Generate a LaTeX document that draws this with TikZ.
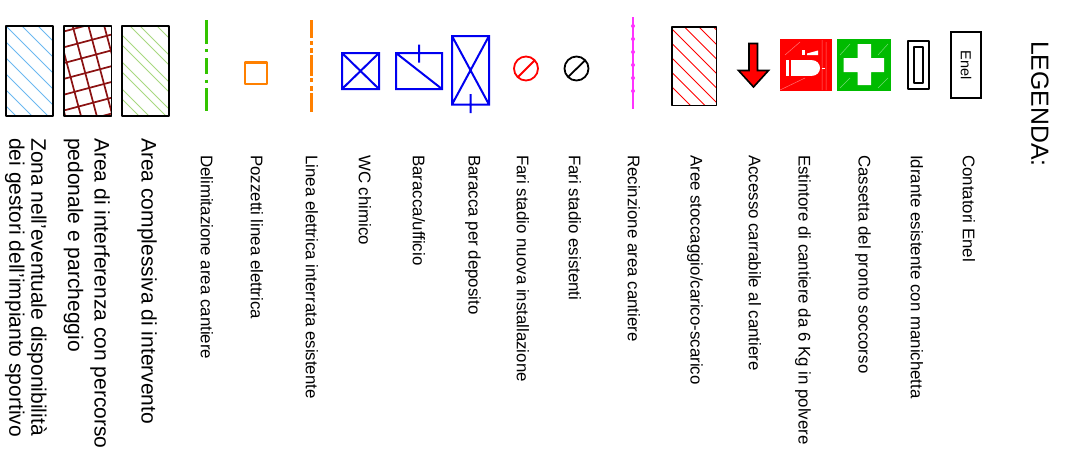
\documentclass[tikz,border=0pt]{standalone}
\usepackage{fontspec}
\setmainfont{Liberation Sans}
\definecolor{hblue}{HTML}{6CB8F0}
\definecolor{hdark}{HTML}{8B1212}
\definecolor{hgreen}{HTML}{A8D880}
\definecolor{lgreen}{HTML}{33C400}
\definecolor{lorange}{HTML}{FF8000}
\definecolor{lblue}{HTML}{0000F0}
\definecolor{lmag}{HTML}{FF33FF}
\definecolor{aidgreen}{HTML}{00BB00}
\tikzset{
  lab/.style={rotate=-90,anchor=west,inner sep=0pt,font=\fontsize{16.85}{19}\selectfont},
  labbig/.style={rotate=-90,anchor=north west,inner sep=0pt,align=left,font=\fontsize{21}{22}\selectfont},
  framebox/.style={draw=black,line width=1.8pt,line join=round},
  bluesym/.style={draw=lblue,line width=2pt},
  hatch/.style={line width=1pt},
  streak/.style={draw=white,opacity=0.45,line width=0.5pt}
}
\begin{document}
\begin{tikzpicture}[x=1pt,y=-1pt]
\useasboundingbox (0,0) rectangle (1069,448);
% hatched boxes
\begin{scope}
\clip (6,26) rectangle (53,116);
\foreach \k in {-4,...,6} \draw[hatch,draw=hblue] (6,26+16*\k) -- ++(100,100);
\end{scope}
\draw[framebox] (6,26) rectangle (53,116);
\begin{scope}
\clip (64,26) rectangle (111.5,116);
\foreach \k in {0,...,7} \draw[line width=1.7pt,draw=hdark] (60,32.5+15.8*\k) -- ++(60,-16);
\foreach \k in {-2,...,4} \draw[line width=1.7pt,draw=hdark] (70+15.8*\k,16) -- ++(30,112);
\end{scope}
\draw[framebox] (64,26) rectangle (111.5,116);
\begin{scope}
\clip (122,26) rectangle (169,116);
\foreach \k in {-4,...,5} {
  \draw[hatch,draw=hgreen] (122,35+27*\k) -- ++(100,100);
  \draw[hatch,draw=hgreen] (122,45+27*\k) -- ++(100,100);}
\end{scope}
\draw[framebox] (122,26) rectangle (169,116);
% green line
\draw[line width=2.4pt,draw=lgreen] (206.5,20)--(206.5,44) (206.5,49)--(206.5,52) (206.5,58)--(206.5,74) (206.5,79.5)--(206.5,82.5) (206.5,88)--(206.5,111);
% orange pit
\draw[line width=2.6pt,draw=lorange,line join=round] (245,62.5) rectangle (267,84);
% orange line
\draw[line width=2.4pt,draw=lorange] (311.5,20)--(311.5,38) (311.5,41)--(311.5,45) (311.5,48)--(311.5,53) (311.5,55)--(311.5,76) (311.5,78)--(311.5,82) (311.5,86)--(311.5,91) (311.5,93)--(311.5,112);
% WC
\draw[bluesym] (342,53) rectangle (379,89) (342,53)--(379,89) (379,53)--(342,89);
% baracca ufficio
\draw[bluesym] (396,53) rectangle (442,89) (396,53)--(442,89) (419,44.5)--(419,62.5);
% baracca deposito
\draw[bluesym] (452,36) rectangle (489,104.5) (452,36)--(489,104.5) (489,36)--(452,104.5) (470.5,94)--(470.5,113);
% lamps
\draw[draw=red,line width=1.8pt] (526,68.5) circle (12) (518,77)--(534.5,60.5);
\draw[draw=black,line width=1.8pt] (576.5,68.5) circle (12) (568,77)--(585,60.5);
% magenta line
\draw[line width=2pt,draw=lmag] (633,17)--(633,109);
\foreach \yy in {26,39,52,65,78,91} \fill[lmag] (633,\yy) circle (2);
% storage
\begin{scope}
\clip (672,27) rectangle (716.5,105.5);
\foreach \k in {-5,...,4} \draw[line width=0.9pt,draw=red] (672,29+14.5*\k) -- ++(100,100);
\end{scope}
\draw[framebox,line width=1.5pt] (672,27) rectangle (716.5,105.5);
% arrow
\draw[fill=red,draw=black,line width=1.6pt,line join=miter] (749,43.5)--(757.5,43.5)--(757.5,70.5)--(768.5,70.5)--(753.5,87)--(738.5,70.5)--(749,70.5)--cycle;
% extinguisher
\fill[red] (779.5,39) rectangle (831.5,91);
\draw[streak] (780,90) -- (805,78) (785,55) -- (800,42) (822,40) -- (822,90) (826,42) -- (826,90);
\fill[white] (791,60) rectangle (812,76);
\fill[white] (811,60) .. controls (817,60) and (820,64) .. (820,68) .. controls (820,72) and (817,76) .. (811,76) -- cycle;
\fill[white] (786,60) rectangle (789,76);
\fill[white] (802,50) rectangle (804.5,55);
\fill[white] (807,53.5) -- (818,50.5) -- (818,55) -- (807,55) -- cycle;
\fill[white] (821.5,67.5) rectangle (824.5,68.7);
% first aid
\fill[aidgreen] (837,39) rectangle (890.5,91);
\draw[streak] (840,55) -- (850,44) (878,55) -- (888,44) (840,88) -- (850,78) (878,88) -- (888,78);
\fill[white] (857.5,44) rectangle (871,85) (843.5,58) rectangle (884,72);
% hydrant
\draw[framebox,line width=1.6pt] (908,41) rectangle (929,89);
\draw[framebox,line width=1.6pt] (914,47) rectangle (923,83);
% Enel
\node[draw=black,line width=1.5pt,minimum width=66pt,minimum height=30pt,inner sep=0pt,rotate=-90,font=\fontsize{14.5}{16}\selectfont] (enel) at (966,65) {Enel};
% labels
\node[rotate=-90,anchor=north west,inner sep=0pt,font=\fontsize{24.8}{27}\selectfont] (legenda) at (1049,41) {LEGENDA:};
\node[lab] (l1) at (969,155) {Contatori Enel};
\node[lab] (l2) at (917,155) {Idrante esistente con manichetta};
\node[lab] (l3) at (863,155) {Cassetta del pronto soccorso};
\node[lab] (l4) at (803,155) {Estintore di cantiere da 6 Kg in polvere};
\node[lab] (l5) at (755,155) {Accesso carrabile al cantiere};
\node[lab] (l6) at (695,155) {Aree stoccaggio/carico-scarico};
\node[lab] (l7) at (634,155) {Recinzione area cantiere};
\node[lab] (l8) at (575,155) {Fari stadio esistenti};
\node[lab] (l9) at (523,155) {Fari stadio nuova installazione};
\node[lab] (l10) at (473,155) {Baracca per deposito};
\node[lab] (l11) at (419,155) {Baracca/ufficio};
\node[lab] (l12) at (365,155) {WC chimico};
\node[lab] (l13) at (312,155) {Linea elettrica interrata esistente};
\node[lab] (l14) at (257,155) {Pozzetti linea elettrica};
\node[lab] (l15) at (207,155) {Delimitazione area cantiere};
\node[labbig] (b1) at (157,138) {Area complessiva di intervento};
\node[labbig] (b2) at (110,138) {Area di interferenza con percorso\\[4.5pt]pedonale e parcheggio};
\node[labbig] (b3) at (47,138) {Zona nell'eventuale disponibilità\\dei gestori dell'impianto sportivo};
\end{tikzpicture}
\end{document}
